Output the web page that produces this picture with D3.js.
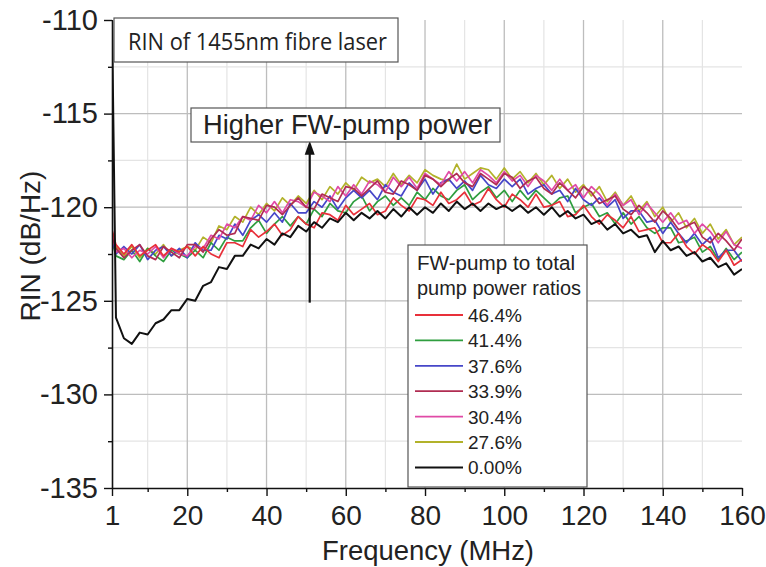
<!DOCTYPE html>
<html><head><meta charset="utf-8">
<script src="https://cdn.jsdelivr.net/npm/d3@7/dist/d3.min.js"></script>
<style>body{margin:0;background:#fff}svg{display:block}</style>
</head><body>
<svg id="chart" width="766" height="567"></svg>
<script>
// ---------- data ----------
const freq = [1,2,4,6,8,10,12,14,16,18,20,22,24,26,28,30,32,34,36,38,40,42,44,46,48,50,52,54,56,58,60,62,64,66,68,70,72,74,76,78,80,82,84,86,88,90,92,94,96,98,100,102,104,106,108,110,112,114,116,118,120,122,124,126,128,130,132,134,136,138,140,142,144,146,148,150,152,154,156,158,160];

const s276 = [-121.4,-122.1,-122.6,-122.1,-122.7,-122.2,-122.5,-122.0,-122.6,-122.3,
-122.1,-122.3,-121.6,-121.9,-121.0,-121.2,-120.5,-120.8,-120.0,-120.4,
-119.8,-120.2,-119.5,-119.9,-119.4,-119.8,-119.1,-119.6,-118.9,-119.3,
-118.7,-119.1,-118.4,-118.7,-118.5,-118.9,-118.2,-118.8,-118.3,-118.7,
-118.0,-118.3,-118.5,-118.6,-117.7,-118.5,-118.2,-117.9,-118.0,-118.5,
-117.9,-118.5,-118.1,-118.7,-118.2,-118.8,-118.3,-119.0,-118.5,-119.2,
-118.8,-119.4,-118.9,-119.7,-119.2,-119.9,-119.4,-120.2,-119.7,-120.5,
-120.0,-120.8,-120.3,-121.1,-120.6,-121.4,-120.9,-121.7,-121.2,-122.0,
-121.6];
const s304 = [-121.3,-122.4,-122.2,-122.7,-122.3,-122.5,-122.1,-122.7,-122.2,-122.5,
-122.6,-122.1,-122.2,-121.5,-121.7,-120.9,-121.1,-120.5,-120.7,-119.9,
-120.3,-119.7,-120.3,-119.6,-119.7,-120.0,-119.2,-119.4,-119.7,-118.9,
-119.4,-118.8,-119.3,-118.6,-118.8,-119.2,-118.4,-118.9,-118.4,-119.0,
-118.2,-118.5,-118.8,-118.1,-118.6,-118.1,-118.7,-118.0,-118.3,-118.7,
-118.1,-118.6,-118.3,-118.9,-118.3,-118.6,-119.1,-118.5,-119.1,-118.8,
-119.5,-118.9,-119.3,-119.9,-119.3,-119.9,-119.6,-120.4,-119.8,-120.3,
-120.8,-120.3,-120.9,-120.7,-121.4,-120.9,-121.3,-121.9,-121.3,-122.0,
-122.2];
const s339 = [-121.6,-122.2,-122.7,-122.3,-122.0,-122.6,-122.8,-122.1,-122.4,-122.7,
-122.0,-122.0,-122.4,-121.7,-121.2,-121.5,-121.4,-120.5,-120.6,-120.7,
-119.9,-120.0,-120.4,-119.9,-119.5,-120.0,-120.1,-119.3,-119.5,-119.7,
-118.9,-119.0,-119.4,-119.0,-118.6,-119.2,-119.3,-118.6,-118.8,-119.1,
-118.3,-118.5,-118.9,-118.5,-118.2,-118.7,-118.9,-118.2,-118.5,-118.8,
-118.2,-118.4,-119.0,-118.6,-118.4,-119.0,-119.3,-118.7,-119.1,-119.5,
-118.9,-119.2,-119.8,-119.6,-119.4,-120.1,-120.4,-119.9,-120.3,-120.8,
-120.2,-120.6,-121.2,-121.0,-120.8,-121.6,-121.9,-121.4,-121.8,-122.3,
-121.7];
const s376 = [-121.7,-122.5,-122.1,-122.5,-122.0,-122.8,-122.3,-122.1,-122.6,-122.2,
-122.7,-121.9,-122.3,-122.3,-121.5,-121.7,-120.9,-121.5,-120.7,-120.4,
-120.8,-120.3,-120.8,-119.8,-120.3,-120.3,-119.7,-120.0,-119.4,-120.1,
-119.5,-119.1,-119.5,-119.1,-119.6,-118.8,-119.2,-119.4,-118.7,-119.1,
-118.5,-119.3,-118.7,-118.5,-119.0,-118.6,-119.1,-118.3,-118.8,-119.0,
-118.5,-118.9,-118.5,-119.3,-119.0,-118.8,-119.3,-119.1,-119.7,-119.0,
-119.6,-119.9,-119.5,-120.0,-119.6,-120.6,-120.2,-120.2,-120.8,-120.7,
-121.4,-120.8,-121.4,-121.9,-121.4,-122.0,-121.6,-122.7,-122.3,-122.3,
-122.9];
const s414 = [-121.8,-122.6,-122.8,-122.3,-122.9,-122.2,-122.6,-122.9,-122.3,-122.5,
-122.7,-122.3,-122.7,-121.9,-122.3,-121.6,-121.8,-121.8,-121.1,-120.7,
-121.4,-120.9,-120.5,-121.0,-120.5,-120.9,-120.1,-120.5,-119.8,-120.2,
-120.3,-119.7,-119.4,-120.2,-119.7,-119.4,-119.9,-119.5,-119.9,-119.2,
-119.6,-119.0,-119.4,-119.6,-119.1,-118.8,-119.6,-119.2,-118.9,-119.5,
-119.1,-119.7,-119.1,-119.6,-119.1,-119.5,-119.9,-119.5,-119.4,-120.3,
-120.0,-119.8,-120.5,-120.3,-120.9,-120.3,-120.9,-120.5,-121.1,-121.4,
-121.1,-121.1,-121.9,-121.8,-121.6,-122.4,-122.1,-122.8,-122.2,-122.8,
-122.4];
const s464 = [-121.2,-122.0,-122.5,-122.0,-122.6,-122.3,-122.0,-122.6,-122.2,-122.4,
-122.1,-122.6,-122.1,-122.5,-122.7,-121.9,-121.9,-122.1,-121.2,-121.6,
-121.3,-120.9,-121.5,-121.2,-120.5,-120.9,-121.1,-120.3,-120.4,-120.7,
-119.9,-120.4,-120.1,-119.8,-120.4,-120.2,-119.5,-119.9,-120.2,-119.5,
-119.6,-119.9,-119.2,-119.8,-119.6,-119.2,-119.9,-119.7,-119.0,-119.6,
-120.0,-119.3,-119.6,-120.0,-119.3,-120.0,-119.9,-119.7,-120.5,-120.4,
-119.9,-120.5,-120.9,-120.4,-120.7,-121.1,-120.5,-121.3,-121.2,-121.1,
-121.9,-121.9,-121.4,-122.1,-122.5,-122.0,-122.3,-122.9,-122.3,-123.1,
-122.8];
const s000 = [-110.0,-125.9,-127.0,-127.3,-126.7,-126.8,-126.2,-126.0,-125.5,-125.5,
-124.9,-125.0,-124.2,-124.0,-123.2,-123.3,-122.6,-122.6,-122.0,-122.2,
-121.7,-122.0,-121.4,-121.6,-121.0,-121.3,-120.8,-121.1,-120.6,-120.8,
-120.3,-120.7,-120.3,-120.6,-120.2,-120.6,-120.1,-120.5,-120.0,-120.4,
-120.0,-120.3,-119.8,-120.2,-119.7,-120.1,-119.8,-120.2,-119.8,-120.1,
-119.9,-120.2,-119.9,-120.3,-120.0,-120.4,-120.0,-120.5,-120.2,-120.6,
-120.4,-120.9,-120.7,-121.2,-120.9,-121.4,-121.2,-121.6,-121.5,-122.4,
-121.8,-122.3,-122.1,-122.6,-122.4,-122.9,-122.7,-123.2,-123.0,-123.6,
-123.3];

const seriesNames = ["46.4%","41.4%","37.6%","33.9%","30.4%","27.6%","0.00%"];
const seriesData = [s464, s414, s376, s339, s304, s276, s000];
const seriesColors = ["#e8303a","#2f9e3f","#4646c8","#b02c52","#e04aa6","#b2b22a","#111111"];
const drawOrder = [5, 1, 2, 4, 3, 0, 6];

const xMajorTicks = [1,20,40,60,80,100,120,140,160];
const xMinorTicks = [10,30,50,70,90,110,130,150];
const yMajorTicks = [-135,-130,-125,-120,-115,-110];
const yMinorTicks = [-132.5,-127.5,-122.5,-117.5,-112.5];

const titleText = "RIN of 1455nm fibre laser";
const arrowText = "Higher FW-pump power";
const legendTitle = ["FW-pump to total", "pump power ratios"];

// ---------- chart ----------
const svg = d3.select("#chart");
const x = d3.scaleLinear().domain([1,160]).range([112,742]);
const y = d3.scaleLinear().domain([-135,-110]).range([488,20]);
const FONT = "'Liberation Sans', Arial, sans-serif";

// grid
const grid = svg.append("g");
grid.selectAll(".vmin").data(xMinorTicks).join("line")
  .attr("x1", d=>x(d)).attr("x2", d=>x(d)).attr("y1", y(-110)).attr("y2", y(-135))
  .attr("stroke", "#e4e4e4").attr("stroke-width", 1.2);
grid.selectAll(".hmin").data(yMinorTicks).join("line")
  .attr("y1", d=>y(d)).attr("y2", d=>y(d)).attr("x1", x(1)).attr("x2", x(160))
  .attr("stroke", "#e4e4e4").attr("stroke-width", 1.2);
grid.selectAll(".vmaj").data(xMajorTicks.filter(d=>d>1 && d<160)).join("line")
  .attr("x1", d=>x(d)).attr("x2", d=>x(d)).attr("y1", y(-110)).attr("y2", y(-135))
  .attr("stroke", "#bdbdbd").attr("stroke-width", 1.3);
grid.selectAll(".hmaj").data(yMajorTicks.filter(d=>d>-135 && d<-110)).join("line")
  .attr("y1", d=>y(d)).attr("y2", d=>y(d)).attr("x1", x(1)).attr("x2", x(160))
  .attr("stroke", "#bdbdbd").attr("stroke-width", 1.3);

// clip
svg.append("clipPath").attr("id","clip").append("rect")
  .attr("x", x(1)).attr("y", y(-110)).attr("width", x(160)-x(1)).attr("height", y(-135)-y(-110));

const line = d3.line().x((d,i)=>x(freq[i])).y(d=>y(d));
const lines = svg.append("g").attr("clip-path","url(#clip)");
drawOrder.forEach(k => {
  lines.append("path").datum(seriesData[k])
    .attr("d", line).attr("fill","none")
    .attr("stroke", seriesColors[k])
    .attr("stroke-width", k===6 ? 2 : 1.7)
    .attr("stroke-linejoin","round");
});

// axes
svg.append("g").attr("transform", `translate(0,${y(-135)})`)
  .call(d3.axisBottom(x).tickValues(xMajorTicks).tickFormat(d3.format("d")).tickSize(8).tickSizeOuter(0).tickPadding(9));
svg.append("g").attr("transform", `translate(0,${y(-135)})`)
  .call(d3.axisBottom(x).tickValues(xMinorTicks).tickFormat("").tickSize(4).tickSizeOuter(0))
  .select(".domain").remove();
const yAxis = svg.append("g").attr("transform", `translate(${x(1)},0)`)
  .call(d3.axisLeft(y).tickValues(yMajorTicks).tickFormat(d3.format("d")).tickSize(8).tickSizeOuter(0).tickPadding(6));
svg.append("g").attr("transform", `translate(${x(1)},0)`)
  .call(d3.axisLeft(y).tickValues(yMinorTicks).tickFormat("").tickSize(4).tickSizeOuter(0))
  .select(".domain").remove();

svg.selectAll(".domain").attr("stroke","#111").attr("stroke-width",1.6);
svg.selectAll(".tick line").attr("stroke","#111").attr("stroke-width",1.4);
svg.selectAll(".tick text").attr("font-family", FONT).attr("font-size", 28).attr("fill","#222");
yAxis.selectAll(".tick text").attr("font-size", 29).text(d => d3.format("d")(d).replace("−","-"));

// axis titles
svg.append("text").attr("x", 428).attr("y", 560).attr("text-anchor","middle")
  .attr("font-family", FONT).attr("font-size", 27).attr("fill","#222")
  .attr("textLength", 212).attr("lengthAdjust","spacingAndGlyphs")
  .text("Frequency (MHz)");
svg.append("text").attr("transform","translate(40,246) rotate(-90)").attr("text-anchor","middle")
  .attr("font-family", FONT).attr("font-size", 28).attr("fill","#222")
  .text("RIN (dB/Hz)");

// title box
svg.append("rect").attr("x",114).attr("y",18).attr("width",284).attr("height",44)
  .attr("fill","#fff").attr("stroke","#555").attr("stroke-width",1.2);
svg.append("text").attr("x",128).attr("y",50)
  .attr("font-family","'Open Sans', 'Noto Sans', sans-serif").attr("font-size",23).attr("fill","#222")
  .attr("textLength",259).attr("lengthAdjust","spacingAndGlyphs")
  .text(titleText);

// arrow annotation
const ax = x(50.9);
svg.append("line").attr("x1",ax).attr("x2",ax).attr("y1",y(-125.1)).attr("y2",y(-116.9))
  .attr("stroke","#111").attr("stroke-width",2.2);
svg.append("path")
  .attr("d", `M${ax},${y(-116.45)} L${ax-5},${y(-116.45)+14} L${ax+5},${y(-116.45)+14} Z`)
  .attr("fill","#111");
svg.append("rect").attr("x",191).attr("y",108).attr("width",309).attr("height",34)
  .attr("fill","#fff").attr("stroke","#555").attr("stroke-width",1.2);
svg.append("text").attr("x",203).attr("y",134)
  .attr("font-family", FONT).attr("font-size",27).attr("fill","#222")
  .attr("textLength",289).attr("lengthAdjust","spacingAndGlyphs")
  .text(arrowText);

// legend
const lg = svg.append("g");
lg.append("rect").attr("x",408).attr("y",245).attr("width",179).attr("height",242)
  .attr("fill","#fff").attr("stroke","#555").attr("stroke-width",1.2);
lg.append("text").attr("x",417).attr("y",270).attr("font-family",FONT).attr("font-size",19.5)
  .attr("fill","#222").attr("textLength",158).attr("lengthAdjust","spacingAndGlyphs").text(legendTitle[0]);
lg.append("text").attr("x",417).attr("y",295).attr("font-family",FONT).attr("font-size",19.5)
  .attr("fill","#222").attr("textLength",164).attr("lengthAdjust","spacingAndGlyphs").text(legendTitle[1]);
seriesNames.forEach((n,i) => {
  const yy = 315 + i*25.4;
  lg.append("line").attr("x1",415).attr("x2",463).attr("y1",yy).attr("y2",yy)
    .attr("stroke", seriesColors[i]).attr("stroke-width", i===6 ? 2 : 1.8);
  lg.append("text").attr("x",468).attr("y",yy+7).attr("font-family",FONT).attr("font-size",19)
    .attr("fill","#222").text(n);
});
</script>
</body></html>
